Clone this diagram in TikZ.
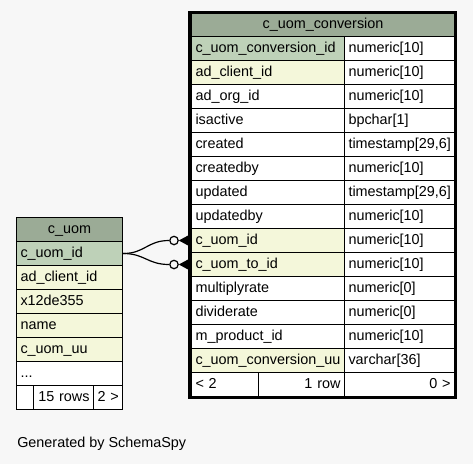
\documentclass[tikz,border=0pt]{standalone}
\usepackage{fontspec}
\setmainfont{Liberation Sans}
\usetikzlibrary{calc}
\definecolor{bgc}{HTML}{F7F7F7}
\definecolor{hdrc}{HTML}{9BAB96}
\definecolor{pkc}{HTML}{BED1B8}
\definecolor{idxc}{HTML}{F4F7DA}
\newcommand\mkcell[7]{% name, x, y(top), width px, fill, align, text
  \pgfmathsetmacro\mytw{#4*0.75-6}%
  \node[cellbox, fill=#5, text width=\mytw pt, align=#6] (#1) at (#2,#3) {#7};}
\tikzset{
  cellbox/.style={draw=black, line width=0.75pt, anchor=north west, inner xsep=3pt,
    inner ysep=0pt, minimum height=18pt, text height=8.6pt, text depth=2.2pt,
    font=\fontsize{10.8pt}{13pt}\selectfont},
  conn/.style={draw=black, line width=0.9pt},
  odot/.style={circle, draw=black, line width=0.9pt, minimum size=6.3pt, inner sep=0pt},
  crow/.style={fill=black},
  outer/.style={draw=black, line width=2.25pt},
  note/.style={anchor=west, inner sep=0pt, font=\fontsize{10.8pt}{13pt}\selectfont}
}
\begin{document}
\begin{tikzpicture}[x=0.75pt, y=-0.75pt]
\useasboundingbox (0,0) rectangle (473,464);
\fill[bgc] (0,0) rectangle (473,464);
% ---- c_uom_conversion ----
\mkcell{bh}{191}{12}{263}{hdrc}{center}{c\_uom\_conversion}
\mkcell{b1}{191}{36}{153}{pkc}{left}{c\_uom\_conversion\_id}
\mkcell{b1t}{344}{36}{110}{white}{left}{numeric[10]}
\mkcell{b2}{191}{60}{153}{idxc}{left}{ad\_client\_id}
\mkcell{b2t}{344}{60}{110}{white}{left}{numeric[10]}
\mkcell{b3}{191}{84}{153}{white}{left}{ad\_org\_id}
\mkcell{b3t}{344}{84}{110}{white}{left}{numeric[10]}
\mkcell{b4}{191}{108}{153}{white}{left}{isactive}
\mkcell{b4t}{344}{108}{110}{white}{left}{bpchar[1]}
\mkcell{b5}{191}{132}{153}{white}{left}{created}
\mkcell{b5t}{344}{132}{110}{white}{left}{\mbox{timestamp[29,6]}}
\mkcell{b6}{191}{156}{153}{white}{left}{createdby}
\mkcell{b6t}{344}{156}{110}{white}{left}{numeric[10]}
\mkcell{b7}{191}{180}{153}{white}{left}{updated}
\mkcell{b7t}{344}{180}{110}{white}{left}{\mbox{timestamp[29,6]}}
\mkcell{b8}{191}{204}{153}{white}{left}{updatedby}
\mkcell{b8t}{344}{204}{110}{white}{left}{numeric[10]}
\mkcell{b9}{191}{228}{153}{idxc}{left}{c\_uom\_id}
\mkcell{b9t}{344}{228}{110}{white}{left}{numeric[10]}
\mkcell{b10}{191}{252}{153}{idxc}{left}{c\_uom\_to\_id}
\mkcell{b10t}{344}{252}{110}{white}{left}{numeric[10]}
\mkcell{b11}{191}{276}{153}{white}{left}{multiplyrate}
\mkcell{b11t}{344}{276}{110}{white}{left}{numeric[0]}
\mkcell{b12}{191}{300}{153}{white}{left}{dividerate}
\mkcell{b12t}{344}{300}{110}{white}{left}{numeric[0]}
\mkcell{b13}{191}{324}{153}{white}{left}{m\_product\_id}
\mkcell{b13t}{344}{324}{110}{white}{left}{numeric[10]}
\mkcell{b14}{191}{348}{153}{idxc}{left}{\mbox{c\_uom\_conversion\_uu}}
\mkcell{b14t}{344}{348}{110}{white}{left}{varchar[36]}
\mkcell{bf1}{191}{372}{67}{white}{left}{< 2}
\mkcell{bf2}{258}{372}{86}{white}{right}{1 row}
\mkcell{bf3}{344}{372}{110}{white}{right}{0 >}
\draw[outer] (189.5,12.5) rectangle (455.5,397.5);
% ---- c_uom ----
\mkcell{uh}{16}{217}{106}{hdrc}{center}{c\_uom}
\mkcell{u1}{16}{241}{106}{pkc}{left}{c\_uom\_id}
\mkcell{u2}{16}{265}{106}{idxc}{left}{ad\_client\_id}
\mkcell{u3}{16}{289}{106}{idxc}{left}{x12de355}
\mkcell{u4}{16}{313}{106}{idxc}{left}{name}
\mkcell{u5}{16}{337}{106}{idxc}{left}{c\_uom\_uu}
\mkcell{u6}{16}{361}{106}{white}{left}{...}
\mkcell{uf1}{16}{385}{17}{white}{left}{}
\mkcell{uf2}{33}{385}{60}{white}{right}{\mbox{15 rows}}
\mkcell{uf3}{93}{385}{29}{white}{right}{\mbox{2 >}}
% ---- connectors ----
\node[odot] (o1) at ($(b9.west)+(-17,0)$) {};
\node[odot] (o2) at ($(b10.west)+(-17,0)$) {};
\draw[conn] (u1.east) .. controls +(22,0) and +(-22,0) .. (o1.west);
\draw[conn] (u1.east) .. controls +(22,0) and +(-22,0) .. (o2.west);
\fill[crow] (o1.east) -- ($(b9.west)+(-2,-5.5)$) -- ($(b9.west)+(-2,5.5)$) -- cycle;
\fill[crow] (o2.east) -- ($(b10.west)+(-2,-5.5)$) -- ($(b10.west)+(-2,5.5)$) -- cycle;
\node[note] (gen) at (17,444) {Generated by SchemaSpy};
\end{tikzpicture}
\end{document}
